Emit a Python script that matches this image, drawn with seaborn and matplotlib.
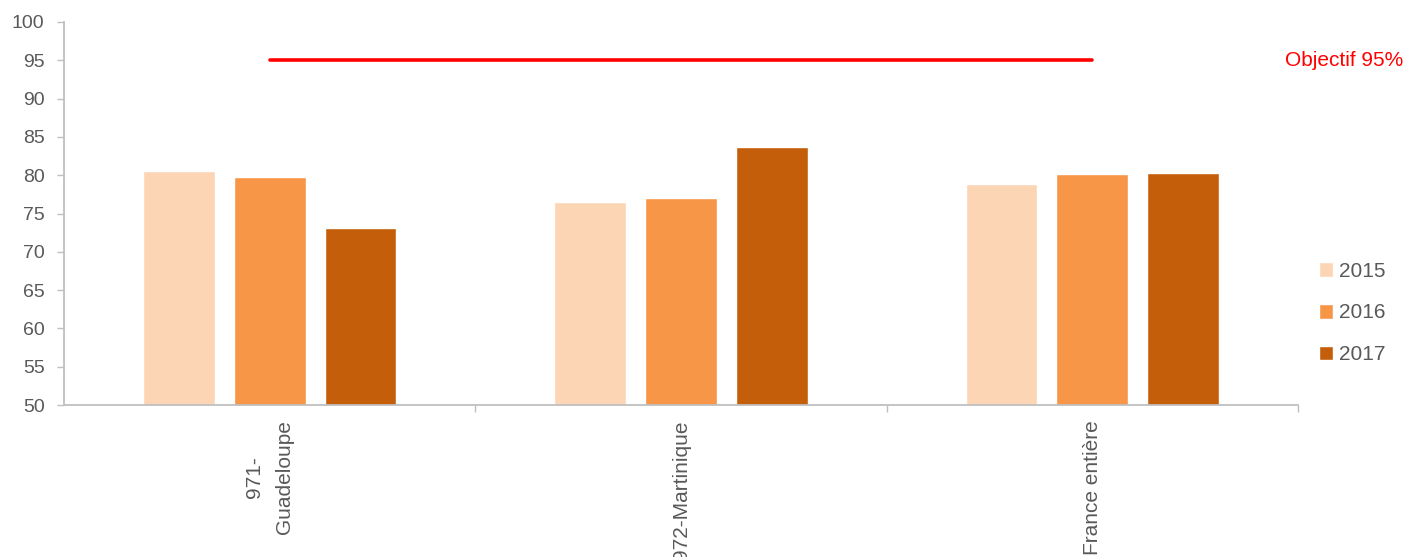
import numpy as np
import pandas as pd
import matplotlib
matplotlib.use("Agg")
import matplotlib.pyplot as plt
import seaborn as sns

categories = ["971-\nGuadeloupe", "972-Martinique", "France entière"]
years = ["2015", "2016", "2017"]
v2015 = [80.5, 76.5, 78.8]
v2016 = [79.7, 77.0, 80.2]
v2017 = [73.1, 83.7, 80.3]
objectif = [95, 95, 95]
objectif_label = "Objectif 95%"
colors = ["#FCD5B5", "#F79646", "#C55E0B"]

sns.set_theme(style="white")
plt.rcParams["font.family"] = ["Liberation Sans", "DejaVu Sans"]

rows = []
for year, vals in zip(years, [v2015, v2016, v2017]):
    for c, v in zip(categories, vals):
        rows.append({"cat": c, "val": v, "year": year})
df = pd.DataFrame(rows)

fig = plt.figure(figsize=(14.04, 5.57), dpi=100)
ax = fig.add_axes([64/1404, 1-405/557, (1298-64)/1404, (405-22)/557])

sns.barplot(data=df, x="cat", y="val", hue="year", order=categories,
            hue_order=years, palette=colors, width=0.663, gap=0.21,
            saturation=1, ax=ax, legend=True)

sns.lineplot(x=np.arange(len(categories)), y=objectif, color="#FF0000",
             linewidth=2.6, ax=ax, legend=False)

ax.set_ylim(50, 100)
ax.set_xlim(-0.5, len(categories) - 0.5)
ax.set_yticks(np.arange(50, 101, 5))
ax.set_xlabel("")
ax.set_ylabel("")

grey = "#595959"
spine = "#BFBFBF"
for s in ["top", "right"]:
    ax.spines[s].set_visible(False)
for s in ["left", "bottom"]:
    ax.spines[s].set_color(spine)
    ax.spines[s].set_linewidth(1.3)

ax.tick_params(axis="y", which="major", length=5, width=1, color=spine,
               labelsize=14, labelcolor=grey, pad=9, left=True, direction="out")
ax.set_xticks(np.arange(len(categories)))
ax.set_xticklabels(categories, rotation=90, va="top", ha="center",
                   linespacing=1.75)
ax.tick_params(axis="x", which="major", length=0, labelsize=15,
               labelcolor=grey, pad=11)
ax.set_xticks(np.arange(len(categories)) + 0.5, minor=True)
ax.tick_params(axis="x", which="minor", length=5, width=1, color=spine,
               bottom=True, direction="out")

handles, labels = ax.get_legend_handles_labels()
ax.get_legend().remove()
fig.legend(handles, labels, loc="center left",
           bbox_to_anchor=(1300/1404, 1-313/557), frameon=False,
           handlelength=0.7, handleheight=0.7, handletextpad=0.25,
           labelspacing=1.1, fontsize=15, labelcolor=grey)

fig.text(1403/1404, 1-60/557, objectif_label, ha="right", va="center",
         color="#FF0000", fontsize=15)

fig.savefig("out.png", dpi=100)
